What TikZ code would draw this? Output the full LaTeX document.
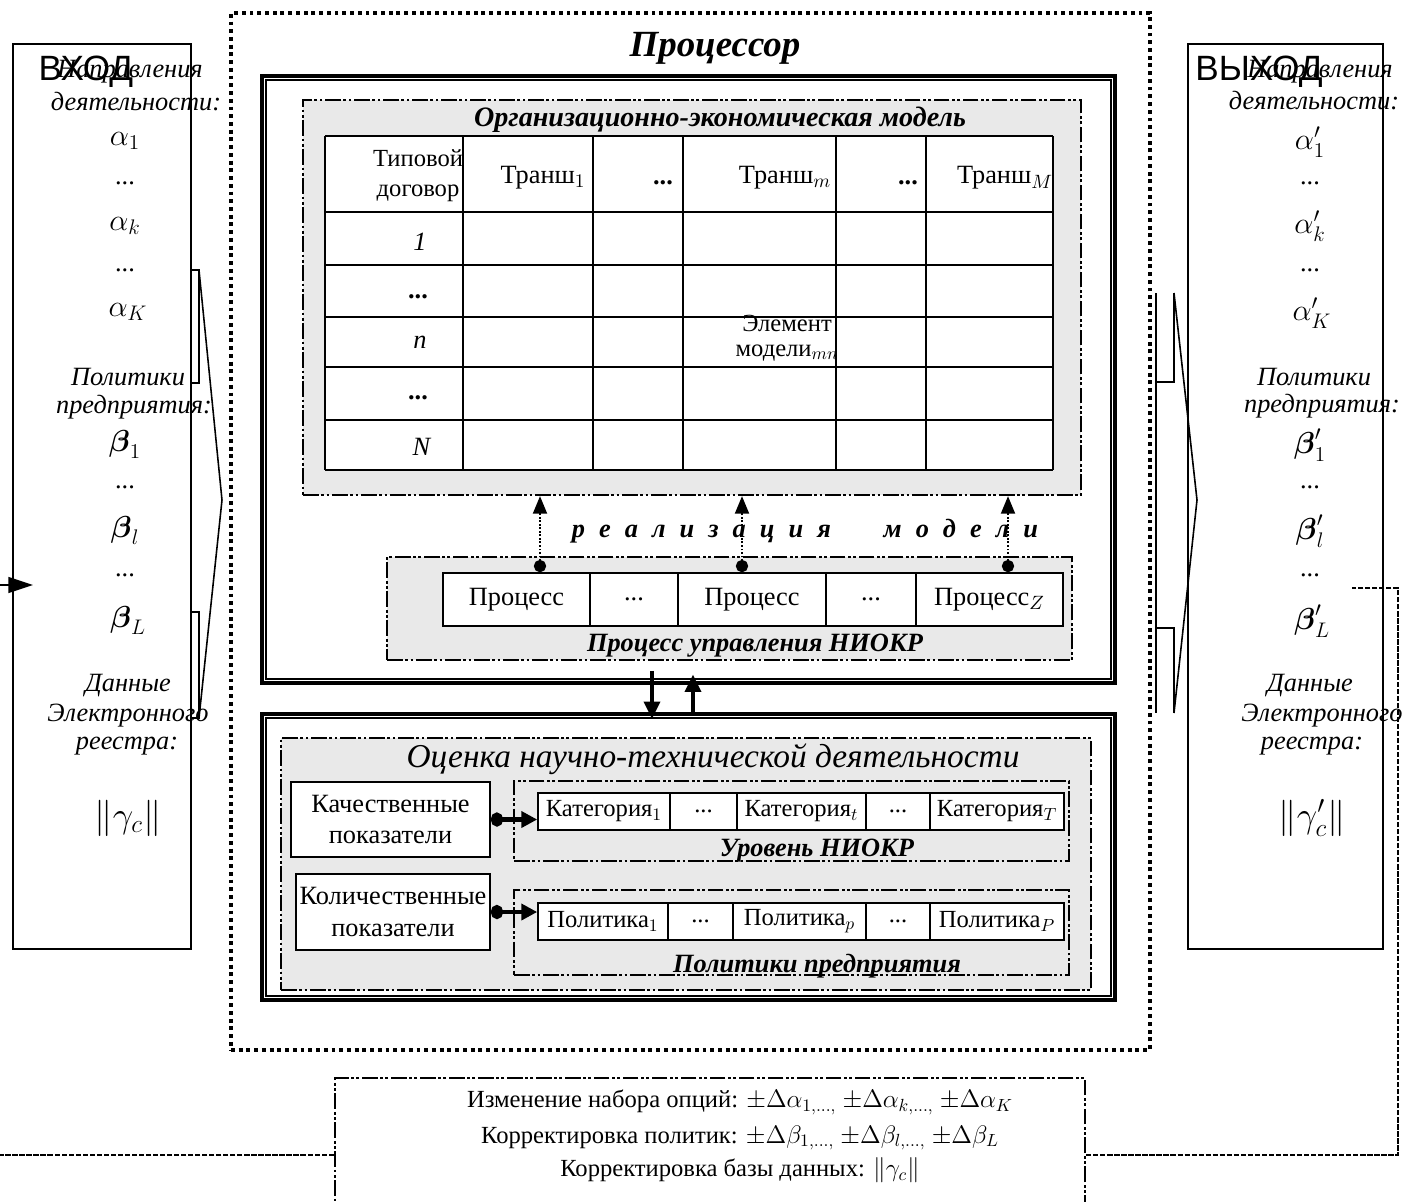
\documentclass[tikz,border=0pt]{standalone}
\usepackage{fontspec}
\setmainfont{Liberation Serif}
\setsansfont{Liberation Sans}
\usepackage{amsmath,amssymb}
\usepackage{tikz}
\usetikzlibrary{positioning,calc,fit,arrows.meta}

\tikzset{
  iobox/.style={draw, line width=0.9pt, inner sep=0pt},
  cpuborder/.style={draw, line width=2.4pt, dash pattern=on 2.2pt off 2.2pt, inner sep=0pt},
  dblbox/.style={draw, line width=2.2pt, inner sep=0pt},
  graybox/.style={draw, fill=gray!17, line width=1.3pt, dash pattern=on 9pt off 1.5pt on 1.5pt off 1.5pt on 1.5pt off 1.5pt, inner sep=0pt},
  subbox/.style={draw, line width=1.3pt, dash pattern=on 9pt off 1.5pt on 1.5pt off 1.5pt on 1.5pt off 1.5pt, inner sep=0pt},
  cell/.style={draw, fill=white, line width=0.9pt, inner sep=0pt},
  txt/.style={font=\fontsize{15}{17}\selectfont, inner sep=0pt},
  smalltxt/.style={font=\fontsize{14}{17}\selectfont, inner sep=0pt},
  iolbl/.style={font=\fontsize{15}{17}\selectfont\itshape, inner sep=0pt},
  iomath/.style={font=\fontsize{17}{20}\selectfont, inner sep=0pt},
  ionorm/.style={font=\fontsize{22}{24}\selectfont, inner sep=0pt},
  ttl/.style={font=\fontsize{15}{17}\selectfont\bfseries\itshape, inner sep=0pt},
  iohead/.style={font=\fontsize{20}{22}\selectfont\sffamily, inner sep=0pt},
  fbline/.style={line width=1.6pt, dash pattern=on 3pt off 1pt},
  realarrow/.style={line width=1pt, densely dotted, {Circle[length=7pt,width=7pt]}-{Triangle[length=10pt,width=8pt]}},
  thickarrow/.style={line width=2.4pt, -{Triangle[length=10pt,width=9pt]}},
  dotarrow/.style={line width=2.4pt, {Circle[length=7pt,width=8pt]}-{Triangle[length=9pt,width=9pt]}},
}

\begin{document}
\begin{tikzpicture}[x=0.02cm, y=-0.02cm]
\useasboundingbox (0,0) rectangle (1403,1201);

% input box
\node[iobox, fit={(13,44) (191,949)}] (inbox) {};
\node[iolbl] (in1) at (130,72) {Направления};
\node[iohead] (inhead) at (86,72) {ВХОД};
\node[iolbl] (in2) at (136,102) {деятельности:};
\node[iomath] (ina1) at (125,141) {$\alpha_1$};
\node[txt] (ind1) at (125,183) {...};
\node[iomath] (inak) at (125,226) {$\alpha_k$};
\node[txt] (ind2) at (125,270) {...};
\node[iomath] (inaK) at (128,312) {$\alpha_K$};
\node[iolbl] (in3) at (128,377) {Политики};
\node[iolbl] (in4) at (134,407) {предприятия:};
\node[iomath] (inb1) at (125,444) {$\boldsymbol{\beta}_1$};
\node[txt] (ind3) at (125,487) {...};
\node[iomath] (inbl) at (125,530) {$\boldsymbol{\beta}_l$};
\node[txt] (ind4) at (125,575) {...};
\node[iomath] (inbL) at (128,620) {$\boldsymbol{\beta}_L$};
\node[iolbl] (in5) at (128,686) {Данные};
\node[iolbl] (in6) at (128,716) {Электронного};
\node[iolbl] (in7) at (127,746) {реестра:};
\node[ionorm] (ing) at (128,818) {$\|\gamma_c\|$};

% output box
\node[iobox, fit={(1188,44) (1383,949)}] (outbox) {};
\node[iolbl] (out1) at (1320,72) {Направления};
\node[iohead] (outhead) at (1259,72) {ВЫХОД};
\node[iolbl] (out2) at (1314,101) {деятельности:};
\node[iomath] (outa1) at (1310,142) {$\alpha'_1$};
\node[txt] (outd1) at (1310,183) {...};
\node[iomath] (outak) at (1310,226) {$\alpha'_k$};
\node[txt] (outd2) at (1310,270) {...};
\node[iomath] (outaK) at (1312,313) {$\alpha'_K$};
\node[iolbl] (out3) at (1314,377) {Политики};
\node[iolbl] (out4) at (1322,406) {предприятия:};
\node[iomath] (outb1) at (1310,445) {$\boldsymbol{\beta}'_1$};
\node[txt] (outd3) at (1310,487) {...};
\node[iomath] (outbl) at (1310,531) {$\boldsymbol{\beta}'_l$};
\node[txt] (outd4) at (1310,575) {...};
\node[iomath] (outbL) at (1312,621) {$\boldsymbol{\beta}'_L$};
\node[iolbl] (out5) at (1310,686) {Данные};
\node[iolbl] (out6) at (1322,716) {Электронного};
\node[iolbl] (out7) at (1312,746) {реестра:};
\node[ionorm] (outg) at (1312,818) {$\|\gamma'_c\|$};

% processor
\node[cpuborder, fit={(231,13) (1150,1050)}] (cpu) {};
\node[font=\fontsize{21}{24}\selectfont\bfseries\itshape] (cputtl) at (715,48) {Процессор};

% brackets in / out
\draw[line width=0.9pt] (191,270) rectangle (199,383);
\draw[line width=0.9pt] (191,612) rectangle (199,718);
\draw[line width=0.9pt] (199,270) -- (222,500) -- (199,718);
\draw[line width=0.9pt] (1156,293) -- (1156,713);
\draw[line width=0.9pt] (1156,382) -| (1174,293);
\draw[line width=0.9pt] (1156,628) -| (1174,713);
\draw[line width=0.9pt] (1174,293) -- (1197,500) -- (1174,713);

% model
\node[dblbox, fit={(262,76) (1115,683)}] (procbox) {};
\draw[line width=0.9pt] ([shift={(6,6)}]procbox.north west) rectangle ([shift={(-6,-6)}]procbox.south east);
\node[graybox, fit={(303,100) (1081,495)}] (model) {};
\node[ttl, font=\fontsize{16}{18}\selectfont\bfseries\itshape] (modelttl) at (720,120) {Организационно-экономическая модель};
\fill[white] (325,136) rectangle (1053,470);
\foreach \cx in {325,463,593,683,836,926,1053}
  \draw[line width=1.2pt] (\cx,136) -- (\cx,470);
\foreach \ry in {136,212,265,317,367,420,470}
  \draw[line width=1.2pt] (325,\ry) -- (1053,\ry);
\node[smalltxt, align=center] (hdr) at (418,176) {Типовой\\договор};
\node[txt] (tr1) at (543,178) {Транш$_1$};
\node[txt] (trd1) at (663,183) {\textbf{...}};
\node[txt] (trm) at (785,178) {Транш$_m$};
\node[txt] (trd2) at (908,183) {\textbf{...}};
\node[txt] (trM) at (1005,178) {Транш$_M$};
\node[txt] (r1) at (420,242) {\textit{1}};
\node[txt] (rd1) at (418,297) {\textbf{...}};
\node[txt] (rn) at (420,342) {\textit{n}};
\node[txt] (rd2) at (418,398) {\textbf{...}};
\node[txt] (rN) at (422,447) {\textit{N}};
\node[font=\fontsize{14}{14}\selectfont, align=center, inner sep=0pt] (elem) at (787,338) {Элемент\\модели$_{mn}$};

% realization
\node[ttl] (realiz) at (805,531) {р\hspace{8pt}е\hspace{8pt}а\hspace{8pt}л\hspace{8pt}и\hspace{8pt}з\hspace{8pt}а\hspace{8pt}ц\hspace{8pt}и\hspace{8pt}я\hspace{30pt}м\hspace{8pt}о\hspace{8pt}д\hspace{8pt}е\hspace{8pt}л\hspace{8pt}и};

% process control
\node[graybox, fit={(387,557) (1072,660)}] (ctrl) {};
\node[cell, fit={(443,573) (590,626)}] (p1) {};
\node[cell, fit={(590,573) (678,626)}] (pd1) {};
\node[cell, fit={(678,573) (826,626)}] (pm) {};
\node[cell, fit={(826,573) (916,626)}] (pd2) {};
\node[cell, fit={(916,573) (1063,626)}] (pz) {};
\node[txt] (p1t) at (p1) {Процесс};
\node[txt] (pd1t) at (pd1) {...};
\node[txt] (pmt) at (pm) {Процесс};
\node[txt] (pd2t) at (pd2) {...};
\node[txt] (pzt) at (pz) {Процесс$_Z$};
\node[ttl] (ctrlttl) at (755,646) {Процесс управления НИОКР};
\coordinate (ra) at (540,0);
\coordinate (rb) at (742,0);
\coordinate (rc) at (1008,0);
\draw[realarrow] (p1.north -| ra) -- (model.south -| ra);
\draw[realarrow] (pm.north -| rb) -- (model.south -| rb);
\draw[realarrow] (pz.north -| rc) -- (model.south -| rc);

% evaluation
\node[dblbox, fit={(262,714) (1115,1000)}] (evalbox) {};
\draw[line width=0.9pt] ([shift={(6,6)}]evalbox.north west) rectangle ([shift={(-6,-6)}]evalbox.south east);
\coordinate (da) at (652,0);
\coordinate (ua) at (693,0);
\draw[thickarrow] ([yshift=8pt]procbox.south -| da) -- ([yshift=-4pt]evalbox.north -| da);
\draw[thickarrow] ([yshift=-2pt]evalbox.north -| ua) -- ([yshift=6pt]procbox.south -| ua);
\node[graybox, fit={(281,738) (1091,990)}] (evalin) {};
\node[font=\fontsize{19}{22}\selectfont\itshape, inner sep=0pt] (evalttl) at (713,759) {Оценка научно-технической деятельности};
\node[cell, fit={(291,782) (490,857)}] (qual) {};
\node[cell, fit={(296,874) (490,950)}] (quant) {};
\node[txt, align=center, font=\fontsize{15}{18}\selectfont] (qualt) at (qual) {Качественные\\показатели};
\node[txt, align=center, font=\fontsize{15}{18}\selectfont] (quantt) at (quant) {Количественные\\показатели};
\node[subbox, fit={(514,781) (1069,861)}] (level) {};
\node[cell, fit={(538,793) (670,830)}] (c1) {};
\node[cell, fit={(670,793) (737,830)}] (cd1) {};
\node[cell, fit={(737,793) (866,830)}] (ct) {};
\node[cell, fit={(866,793) (930,830)}] (cd2) {};
\node[cell, fit={(930,793) (1064,830)}] (cT) {};
\node[smalltxt] (c1t) at (c1) {Категория$_1$};
\node[smalltxt] (cd1t) at (cd1) {...};
\node[smalltxt] (ctt) at (ct) {Категория$_t$};
\node[smalltxt] (cd2t) at (cd2) {...};
\node[smalltxt] (cTt) at (cT) {Категория$_T$};
\node[ttl] (levelttl) at (817,851) {Уровень НИОКР};
\node[subbox, fit={(514,890) (1069,975)}] (pol) {};
\node[cell, fit={(538,903) (668,940)}] (q1) {};
\node[cell, fit={(668,903) (733,940)}] (qd1) {};
\node[cell, fit={(733,903) (866,940)}] (qp) {};
\node[cell, fit={(866,903) (930,940)}] (qd2) {};
\node[cell, fit={(930,903) (1064,940)}] (qP) {};
\node[smalltxt] (q1t) at (q1) {Политика$_1$};
\node[smalltxt] (qd1t) at (qd1) {...};
\node[smalltxt] (qpt) at (qp) {Политика$_p$};
\node[smalltxt] (qd2t) at (qd2) {...};
\node[smalltxt] (qPt) at (qP) {Политика$_P$};
\node[ttl] (polttl) at (817,966) {Политики предприятия};
\draw[dotarrow] (qual.east) -- (qual.east -| c1.west);
\draw[dotarrow] (quant.east) -- (quant.east -| q1.west);

% correction
\node[subbox, fill=white, fit={(335,1078) (1085,1215)}] (corr) {};
\node[smalltxt] (cor1) at (740,1102) {Изменение набора опций: $\pm\Delta\alpha_{1,\dots,}$ $\pm\Delta\alpha_{k,\dots,}$ $\pm\Delta\alpha_K$};
\node[smalltxt] (cor2) at (740,1138) {Корректировка политик: $\pm\Delta\beta_{1,\dots,}$ $\pm\Delta\beta_{l,\dots,}$ $\pm\Delta\beta_L$};
\node[smalltxt] (cor3) at (740,1170) {Корректировка базы данных: $\|\gamma_c\|$};

% feedback
\coordinate (fbL) at (0,1155);
\coordinate (fbR) at (1398,1155);
\coordinate (fbT) at (1398,588);
\coordinate (fbE) at (1352,588);
\draw[fbline] (fbL -| corr.west) -- (fbL);
\draw[fbline] (fbR -| corr.east) -- (fbR) -- (fbT) -- (fbE);
\coordinate (inA) at (0,585);
\coordinate (inTip) at (33,585);
\draw[line width=1pt, -{Triangle[length=14pt,width=9pt]}] (inA) -- (inTip);
\end{tikzpicture}
\end{document}
